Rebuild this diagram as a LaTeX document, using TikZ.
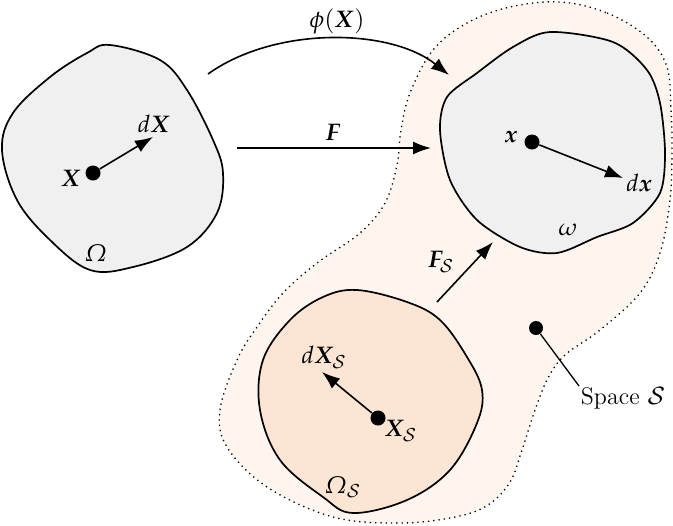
\documentclass[tikz,border=0pt]{standalone}
\usepackage[slantedGreek]{mathpazo}
\usepackage{bm}
\usetikzlibrary{arrows.meta}
\definecolor{grayfill}{HTML}{F0F0F0}
\definecolor{spacefill}{HTML}{FEF5EF}
\definecolor{omsfill}{HTML}{FDE5D4}
\begin{document}
\begin{tikzpicture}[x=0.5pt,y=-0.5pt,
  blob/.style={draw=black,line width=0.85pt},
  arr/.style={line width=0.8pt,-{Latex[length=9pt,width=6.5pt]}},
  dot/.style={circle,fill=black,inner sep=0pt,minimum size=7.5pt},
  lbl/.style={inner sep=1pt,font=\fontsize{12}{14}\selectfont}]
\useasboundingbox (0,0) rectangle (673,525);
% space S
\draw[dotted,line width=0.65pt,fill=spacefill] plot[smooth cycle,tension=0.6] coordinates {
 (560,2) (607,13) (647,37) (667,67) (671,110) (672,150) (670,200) (660,253)
 (640,293) (600,330) (565,355) (548,378) (535,410) (522,450) (510,482) (488,505)
 (455,517) (400,523) (333,517) (267,487) (227,447) (220,410) (237,360) (257,327)
 (283,293) (317,263) (360,233) (385,203) (397,165) (401,130) (410,93) (433,50)
 (467,23) (510,7)};
% Omega
\draw[blob,fill=grayfill] plot[smooth cycle,tension=0.6] coordinates {
 (110,45) (160,60) (187,90) (213,140) (223,173) (217,213) (187,247) (133,267)
 (90,270) (50,240) (17,200) (2,150) (13,113) (50,77) (87,53)};
% omega
\draw[blob,fill=grayfill] plot[smooth cycle,tension=0.5] coordinates {
 (550,32) (613,42) (647,70) (660,103) (665,153) (660,193) (633,223) (597,237)
 (557,253) (520,247) (477,220) (450,180) (440,130) (447,97) (477,73) (513,47)};
% Omega_S
\draw[blob,fill=omsfill] plot[smooth cycle,tension=0.6] coordinates {
 (357,290) (407,302) (440,320) (467,357) (482,390) (477,423) (450,470) (407,500)
 (353,513) (323,497) (280,460) (260,410) (263,360) (290,320) (323,297)};
% dots
\node[dot] (X) at (93,173) {};
\node[dot] (x) at (532,142) {};
\node[dot] (XS) at (378,418) {};
\node[dot,minimum size=7pt] (sp) at (536,328) {};
\coordinate (dXt) at (153,137);
\coordinate (dxt) at (623,178);
\coordinate (dXSt) at (322,372);
\coordinate (Fa) at (237,148);
\coordinate (Fb) at (431,148);
\coordinate (FSa) at (437,302);
\coordinate (FSb) at (493,242);
\coordinate (pa) at (208,74);
\coordinate (pb) at (449,75);
% arrows
\draw[arr] (X) -- (dXt);
\draw[arr] (x) -- (dxt);
\draw[arr] (XS) -- (dXSt);
\draw[arr] (Fa) -- (Fb);
\draw[arr] (FSa) -- (FSb);
\draw[arr] (pa) .. controls (275,26) and (390,28) .. (pb);
% labels
\node[lbl] (lX) at (71,178) {$\bm{X}$};
\node[lbl] (ldX) at (154,124) {$d\bm{X}$};
\node[lbl] (lOm) at (96,253) {$\Omega$};
\node[lbl] (lx) at (511,137) {$\bm{x}$};
\node[lbl] (ldx) at (639,183) {$d\bm{x}$};
\node[lbl] (lom) at (568,230) {$\omega$};
\node[lbl] (lF) at (333,132) {$\bm{F}$};
\node[lbl] (lphi) at (337,21) {$\phi(\bm{X})$};
\node[lbl] (lFS) at (441,262) {$\bm{F}_{\mathcal{S}}$};
\node[lbl] (ldXS) at (324,357) {$d\bm{X}_{\mathcal{S}}$};
\node[lbl] (lXS) at (401,431) {$\bm{X}_{\mathcal{S}}$};
\node[lbl] (lOmS) at (343,487) {$\Omega_{\mathcal{S}}$};
\node[lbl] (lsp) at (623,398) {Space $\mathcal{S}$};
\draw[line width=0.65pt] (sp) -- (579,386);
\end{tikzpicture}
\end{document}
